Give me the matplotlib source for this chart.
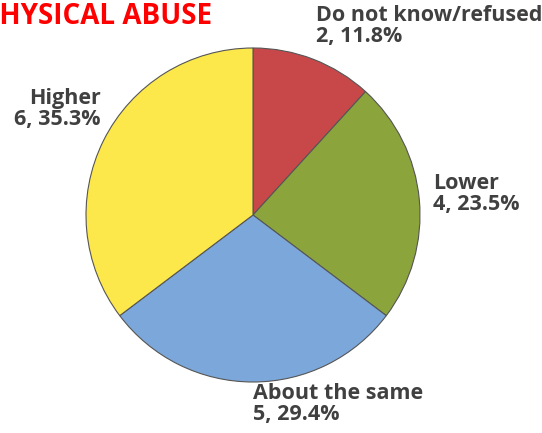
import matplotlib.pyplot as plt

categories = ["Do not know/refused", "Lower", "About the same", "Higher"]
counts = [2, 4, 5, 6]
percents = [11.8, 23.5, 29.4, 35.3]
colors = ["#C8484A", "#8BA43C", "#7CA7DA", "#FCE84A"]

W, H = 542, 433
fig = plt.figure(figsize=(W / 100, H / 100), dpi=100)
plt.rcParams['font.family'] = ['Open Sans', 'DejaVu Sans']

# pie centre (253, 215) px, radius 167 px
cx, cy, r = 253, 215, 167
ax = fig.add_axes([(cx - r) / W, (H - cy - r) / H, 2 * r / W, 2 * r / H])
ax.pie(counts, colors=colors, startangle=90, counterclock=False,
       wedgeprops=dict(edgecolor="#555555", linewidth=0.8))
ax.set_aspect("equal")
ax.set_xlim(-1, 1)
ax.set_ylim(-1, 1)
ax.axis("off")

fig.text(-18 / W, 1 - 2 / H, "PHYSICAL ABUSE", color="#FF0000", fontsize=20,
         fontweight="bold", ha="left", va="top")

# label positions in px: (x, top y, alignment)
label_pos = [(316, 5, "left"), (433, 173, "left"), (253, 383, "left"), (101, 88, "right")]
for cat, n, p, (x, y, ha) in zip(categories, counts, percents, label_pos):
    fig.text(x / W, 1 - y / H, f"{cat}\n{n}, {p}%", color="#404040", fontsize=15.5,
             fontweight="bold", ha=ha, va="top", linespacing=1.0, multialignment=ha)

fig.savefig("out.png", dpi=100)
